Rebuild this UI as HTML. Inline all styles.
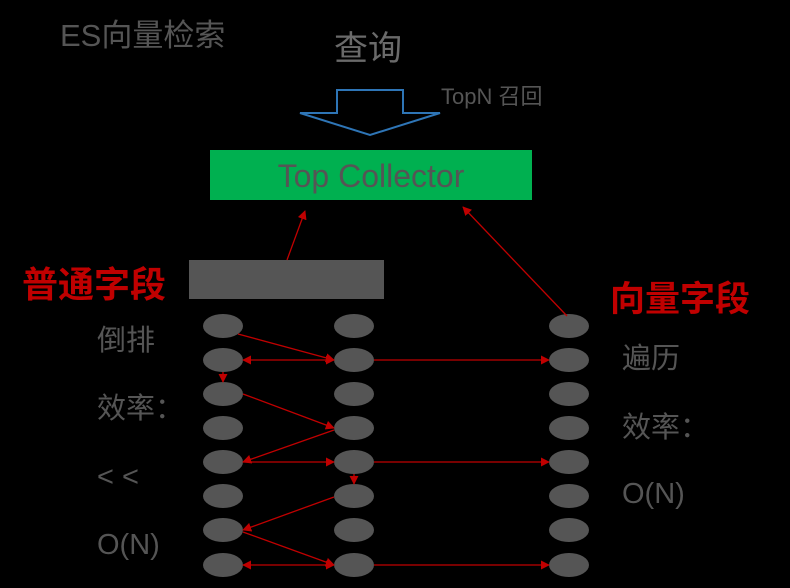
<!DOCTYPE html>
<html><head><meta charset="utf-8"><style>
body{margin:0;background:#000;width:790px;height:583px;overflow:hidden}
svg text{font-family:"Liberation Sans","Noto Sans CJK SC",sans-serif}
</style></head><body>
<svg width="790" height="583" viewBox="0 0 790 583">
<defs><marker id="a" viewBox="0 0 10 10" refX="9" refY="5" markerWidth="7" markerHeight="7" orient="auto-start-reverse"><path d="M0,0L10,5L0,10z" fill="#c00000"/></marker></defs>
<rect width="790" height="583" fill="#000"/>
<text x="60" y="46" font-size="31" fill="#555">ES向量检索</text>
<text x="334" y="60" font-size="34" fill="#6a6a6a">查询</text>
<text x="441" y="104" font-size="22" fill="#555">TopN 召回</text>
<path d="M337,90H403V113H440L370,135L300,113H337Z" fill="none" stroke="#2e75b6" stroke-width="2"/>
<rect x="210" y="150" width="322" height="50" fill="#00b050"/>
<text x="371" y="187" font-size="32" fill="#555" text-anchor="middle">Top Collector</text>
<rect x="189" y="260" width="195" height="39" fill="#555"/>
<text x="22" y="297" font-size="36" font-weight="bold" fill="#c00000">普通字段</text>
<text x="610" y="311" font-size="35" font-weight="bold" fill="#c00000">向量字段</text>
<g font-size="29" fill="#555">
<text x="97" y="350">倒排</text><text x="97" y="418">效率：</text><text x="97" y="486">&lt; &lt;</text><text x="97" y="554">O(N)</text>
<text x="622" y="368">遍历</text><text x="622" y="437">效率：</text><text x="622" y="503">O(N)</text>
</g>
<g fill="#555">
<ellipse cx="223" cy="326" rx="20" ry="12"/><ellipse cx="223" cy="360" rx="20" ry="12"/><ellipse cx="223" cy="394" rx="20" ry="12"/><ellipse cx="223" cy="428" rx="20" ry="12"/><ellipse cx="223" cy="462" rx="20" ry="12"/><ellipse cx="223" cy="496" rx="20" ry="12"/><ellipse cx="223" cy="530" rx="20" ry="12"/><ellipse cx="223" cy="565" rx="20" ry="12"/>
<ellipse cx="354" cy="326" rx="20" ry="12"/><ellipse cx="354" cy="360" rx="20" ry="12"/><ellipse cx="354" cy="394" rx="20" ry="12"/><ellipse cx="354" cy="428" rx="20" ry="12"/><ellipse cx="354" cy="462" rx="20" ry="12"/><ellipse cx="354" cy="496" rx="20" ry="12"/><ellipse cx="354" cy="530" rx="20" ry="12"/><ellipse cx="354" cy="565" rx="20" ry="12"/>
<ellipse cx="569" cy="326" rx="20" ry="12"/><ellipse cx="569" cy="360" rx="20" ry="12"/><ellipse cx="569" cy="394" rx="20" ry="12"/><ellipse cx="569" cy="428" rx="20" ry="12"/><ellipse cx="569" cy="462" rx="20" ry="12"/><ellipse cx="569" cy="496" rx="20" ry="12"/><ellipse cx="569" cy="530" rx="20" ry="12"/><ellipse cx="569" cy="565" rx="20" ry="12"/>
</g>
<g stroke="#c00000" stroke-width="1.3" fill="none" marker-end="url(#a)">
<path d="M287,260L305,211"/><path d="M567,316L463,207"/>
<path d="M238,334L334,360"/>
<path d="M243,360L334,360" marker-start="url(#a)"/>
<path d="M374,360L549,360"/>
<path d="M223,372L223,382"/>
<path d="M243,394L334,428"/>
<path d="M334,430L243,462"/>
<path d="M243,462L334,462"/>
<path d="M374,462L549,462"/>
<path d="M354,474L354,484"/>
<path d="M334,497L243,530"/>
<path d="M243,532L334,565"/>
<path d="M243,565L334,565" marker-start="url(#a)"/>
<path d="M374,565L549,565"/>
</g>
</svg>
</body></html>
